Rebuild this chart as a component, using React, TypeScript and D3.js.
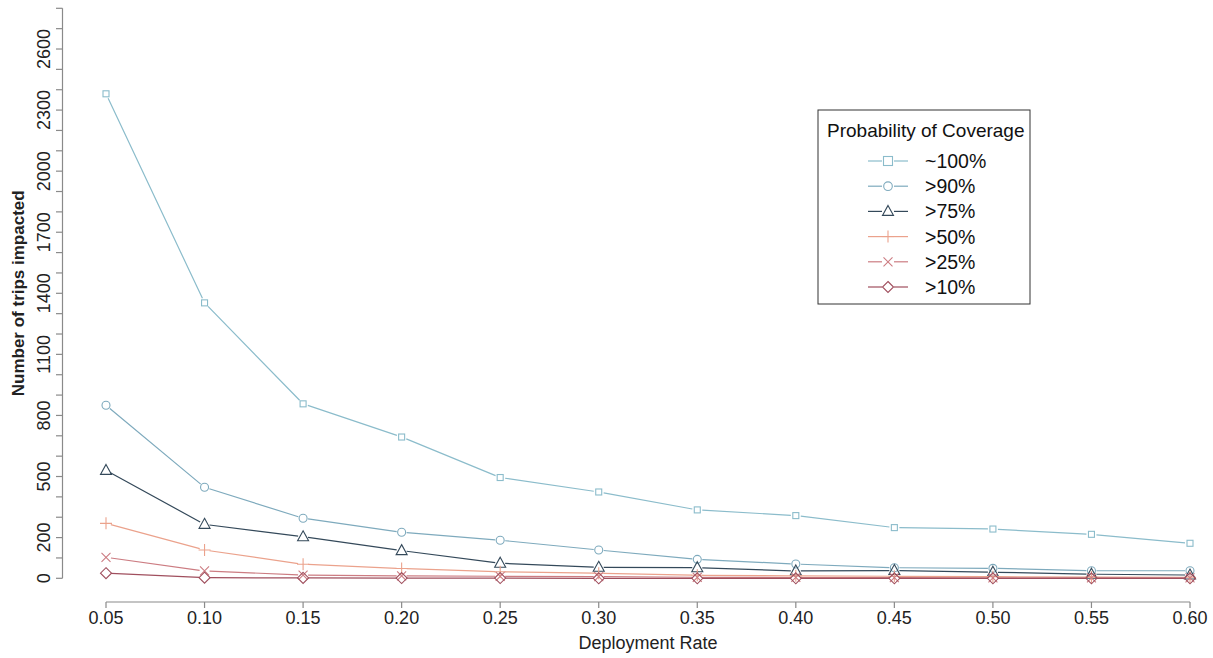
import React from "react";
import * as d3 from "d3";

const rates = [0.05, 0.1, 0.15, 0.2, 0.25, 0.3, 0.35, 0.4, 0.45, 0.5, 0.55, 0.6];
const rateLabels = ["0.05", "0.10", "0.15", "0.20", "0.25", "0.30", "0.35", "0.40", "0.45", "0.50", "0.55", "0.60"];
const yTickValues = d3.range(0, 2801, 100);
const yLabelValues = [0, 200, 500, 800, 1100, 1400, 1700, 2000, 2300, 2600];

const cov100 = [2380, 1353, 857, 694, 495, 424, 336, 308, 249, 242, 216, 172];
const cov90 = [850, 447, 295, 226, 187, 139, 93, 70, 52, 49, 37, 37];
const cov75 = [530, 265, 204, 136, 74, 54, 52, 36, 38, 30, 20, 16];
const cov50 = [270, 139, 69, 48, 32, 25, 15, 12, 10, 8, 6, 5];
const cov25 = [103, 36, 16, 12, 10, 8, 5, 4, 3, 2, 2, 2];
const cov10 = [25, 3, 2, 1, 1, 0, 0, 0, 0, 0, 0, 0];

const seriesNames = ["~100%", ">90%", ">75%", ">50%", ">25%", ">10%"];
const seriesValues = [cov100, cov90, cov75, cov50, cov25, cov10];
const seriesColors = ["#8bbccb", "#7eaabd", "#34495a", "#eba28c", "#cc7c82", "#a04f5e"];
const seriesShapes = ["square", "circle", "triangle", "plus", "cross", "diamond"];

const FONT = "'Liberation Sans', Arial, sans-serif";

function Marker({ shape, x, y, color, legend }: { shape: string; x: number; y: number; color: string; legend?: boolean }) {
  const common = { fill: "none", stroke: color, strokeWidth: 1.1 };
  if (shape === "square") {
    const s = legend ? 9 : 6;
    return <rect x={x - s / 2} y={y - s / 2} width={s} height={s} {...common} />;
  }
  if (shape === "circle") {
    return <circle cx={x} cy={y} r={legend ? 4.3 : 4} {...common} />;
  }
  if (shape === "triangle") {
    const h = 10;
    const w = 11;
    return <path d={`M${x},${y - h * 0.6} L${x + w / 2},${y + h * 0.4} L${x - w / 2},${y + h * 0.4} Z`} {...common} />;
  }
  if (shape === "plus") {
    const s = 6;
    return <path d={`M${x - s},${y} H${x + s} M${x},${y - s} V${y + s}`} {...common} />;
  }
  if (shape === "cross") {
    const s = 4.5;
    return <path d={`M${x - s},${y - s} L${x + s},${y + s} M${x - s},${y + s} L${x + s},${y - s}`} {...common} />;
  }
  const s = 5.5;
  return <path d={`M${x},${y - s} L${x + s},${y} L${x},${y + s} L${x - s},${y} Z`} {...common} />;
}

export default function App() {
  const width = 1213;
  const height = 658;
  const x = d3.scaleLinear().domain([0.05, 0.6]).range([106, 1190]);
  const y = d3.scaleLinear().domain([0, 2800]).range([578.3, 8.3]);
  const gap = 5;
  const axisColor = "#8a8a8a";
  const textColor = "#222";

  const segs = (vals: number[]) => {
    const out: string[] = [];
    for (let i = 0; i < vals.length - 1; i++) {
      const x1 = x(rates[i]), y1 = y(vals[i]), x2 = x(rates[i + 1]), y2 = y(vals[i + 1]);
      const len = Math.hypot(x2 - x1, y2 - y1);
      if (len <= 2 * gap) continue;
      const ux = (x2 - x1) / len, uy = (y2 - y1) / len;
      out.push(`M${x1 + ux * gap},${y1 + uy * gap} L${x2 - ux * gap},${y2 - uy * gap}`);
    }
    return out.join(" ");
  };

  const legX = 818, legY = 110, legW = 212, legH = 194;
  const rowY0 = 161, rowStep = 25.2;

  return (
    <svg width={width} height={height} style={{ position: "absolute", left: 0, top: 0, background: "#fff" }} fontFamily={FONT}>
      {/* Y axis */}
      <line x1={62.5} x2={62.5} y1={y(0)} y2={y(2800)} stroke={axisColor} strokeWidth={1.2} />
      {yTickValues.map((v) => (
        <line key={v} x1={56} x2={62.5} y1={y(v)} y2={y(v)} stroke={axisColor} strokeWidth={1.2} />
      ))}
      {yLabelValues.map((v) => (
        <text key={v} transform={`translate(50,${y(v)}) rotate(-90)`} textAnchor="middle" fontSize={18} fill={textColor}>
          {v}
        </text>
      ))}
      <text transform={`translate(24,${(y(0) + y(2800)) / 2}) rotate(-90)`} textAnchor="middle" fontSize={17} fontWeight="bold" fill={textColor}>
        Number of trips impacted
      </text>

      {/* X axis */}
      <line x1={x(0.05)} x2={x(0.6)} y1={602} y2={602} stroke={axisColor} strokeWidth={1.2} />
      {rates.map((r, i) => (
        <g key={r}>
          <line x1={x(r)} x2={x(r)} y1={602} y2={608} stroke={axisColor} strokeWidth={1.2} />
          <text x={x(r)} y={624} textAnchor="middle" fontSize={18} fill={textColor}>
            {rateLabels[i]}
          </text>
        </g>
      ))}
      <text x={(x(0.05) + x(0.6)) / 2} y={649} textAnchor="middle" fontSize={18} fill={textColor}>
        Deployment Rate
      </text>

      {/* Series */}
      {seriesValues.map((vals, si) => (
        <g key={seriesNames[si]}>
          <path d={segs(vals)} fill="none" stroke={seriesColors[si]} strokeWidth={1.2} />
          {vals.map((v, i) => (
            <Marker key={i} shape={seriesShapes[si]} x={x(rates[i])} y={y(v)} color={seriesColors[si]} />
          ))}
        </g>
      ))}

      {/* Legend */}
      <rect x={legX} y={legY} width={legW} height={legH} fill="#fff" stroke="#333" strokeWidth={1} />
      <text x={827} y={137} fontSize={19} fill="#111">
        Probability of Coverage
      </text>
      {seriesNames.map((n, i) => {
        const yy = rowY0 + i * rowStep;
        return (
          <g key={n}>
            <line x1={868} x2={882} y1={yy} y2={yy} stroke={seriesColors[i]} strokeWidth={1.2} />
            <line x1={894} x2={908} y1={yy} y2={yy} stroke={seriesColors[i]} strokeWidth={1.2} />
            <Marker shape={seriesShapes[i]} x={888} y={yy} color={seriesColors[i]} legend />
            <text x={925} y={yy + 7} fontSize={19.5} fill="#111">
              {n}
            </text>
          </g>
        );
      })}
    </svg>
  );
}
